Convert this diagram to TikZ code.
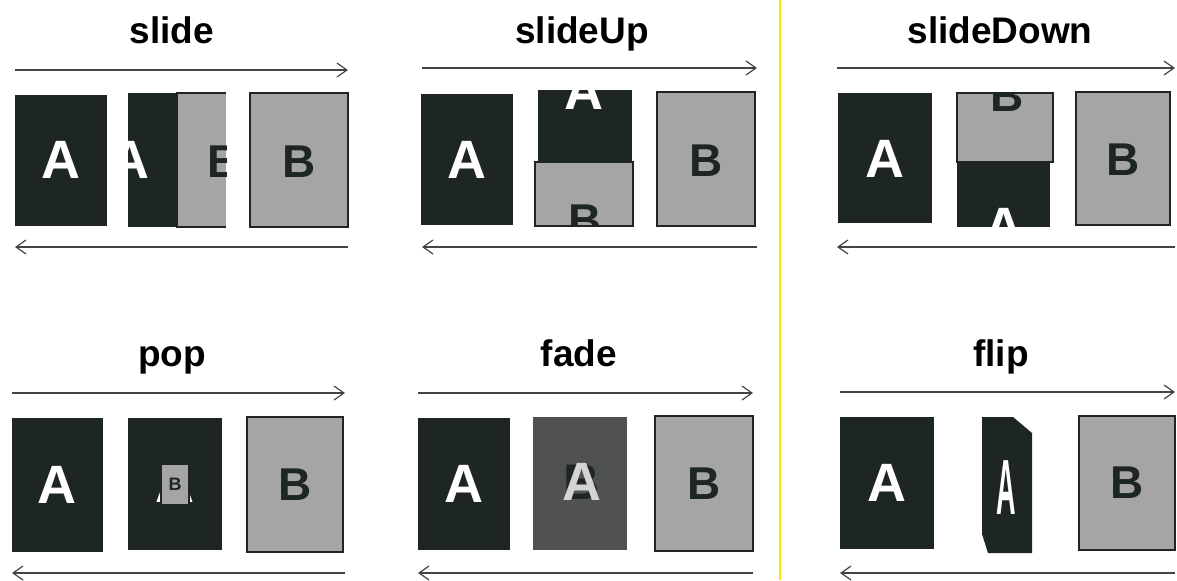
\documentclass[tikz,border=0pt]{standalone}
\usepackage{fontspec}
\setmainfont{Liberation Sans}
\usetikzlibrary{arrows.meta}
\definecolor{pgdark}{RGB}{30,38,33}
\definecolor{pggray}{RGB}{165,165,165}
\definecolor{pgfade}{RGB}{80,82,80}
\definecolor{sepline}{RGB}{250,232,0}

\begin{document}
\begin{tikzpicture}[x=0.5pt,y=-0.5pt,>={Straight Barb[length=5pt,width=7pt]},
  ttl/.style={anchor=base,inner sep=0pt,font=\bfseries\fontsize{18.5}{22}\selectfont},
  pga/.style={fill=pgdark},
  pgb/.style={fill=pggray,draw=pgdark,line width=1pt},
  leta/.style={inner sep=0pt,text=white,font=\bfseries\fontsize{27}{30}\selectfont},
  letb/.style={inner sep=0pt,text=pgdark,font=\bfseries\fontsize{23}{26}\selectfont},
  flow/.style={->,line width=0.6pt,draw=pgdark!85}]
\useasboundingbox (0,0) rectangle (1177,580);
\draw[sepline,line width=0.8pt] (780,0) -- (780,580);

% slide
\node[ttl] (tSlide) at (172,43) {slide};
\path (15,70) coordinate (slTL) (348,70) coordinate (slTR) (15,247) coordinate (slBL) (348,247) coordinate (slBR);
\draw[flow] (slTL) -- (slTR);
\draw[flow] (slBR) -- (slBL);
\fill[pga] (15,95) rectangle (107,226);
\node[leta] (slA) at (61,160) {A};
\fill[pga] (128,93) rectangle (177,227);
\begin{scope}
  \clip (128,93) rectangle (177,227);
  \node[leta] (slA2) at (130,160) {A};
\end{scope}
\fill[pggray] (177,93) rectangle (226,227);
\begin{scope}
  \clip (177,93) rectangle (226,227);
  \node[letb] (slB2) at (224,162) {B};
\end{scope}
\draw[pgdark,line width=1pt] (226,93) -- (177,93) -- (177,227) -- (226,227);
\filldraw[pgb] (250,93) rectangle (348,227);
\node[letb] (slB) at (299,162) {B};

% slideUp
\node[ttl] (tUp) at (582,43) {slideUp};
\path (422,68) coordinate (upTL) (757,68) coordinate (upTR) (422,247) coordinate (upBL) (757,247) coordinate (upBR);
\draw[flow] (upTL) -- (upTR);
\draw[flow] (upBR) -- (upBL);
\fill[pga] (421,94) rectangle (513,225);
\node[leta] (upA) at (467,160) {A};
\fill[pga] (538,90) rectangle (632,162);
\begin{scope}
  \clip (538,90) rectangle (632,162);
  \node[leta] (upA2) at (584,91) {A};
\end{scope}
\filldraw[pgb] (535,162) rectangle (633,226);
\begin{scope}
  \clip (535,162) rectangle (633,226);
  \node[letb] (upB2) at (585,221) {B};
\end{scope}
\filldraw[pgb] (657,92) rectangle (755,226);
\node[letb] (upB) at (706,161) {B};

% slideDown
\node[ttl] (tDown) at (1000,43) {slideDown};
\path (837,68) coordinate (dnTL) (1175,68) coordinate (dnTR) (837,247) coordinate (dnBL) (1175,247) coordinate (dnBR);
\draw[flow] (dnTL) -- (dnTR);
\draw[flow] (dnBR) -- (dnBL);
\fill[pga] (838,93) rectangle (932,223);
\node[leta] (dnA) at (885,159) {A};
\fill[pga] (957,162) rectangle (1050,227);
\begin{scope}
  \clip (957,162) rectangle (1050,227);
  \node[leta] (dnA2) at (1004,227) {A};
\end{scope}
\filldraw[pgb] (957,93) rectangle (1053,162);
\begin{scope}
  \clip (957,93) rectangle (1053,162);
  \node[letb] (dnB2) at (1007,96) {B};
\end{scope}
\filldraw[pgb] (1076,92) rectangle (1170,225);
\node[letb] (dnB) at (1123,160) {B};

% pop
\node[ttl] (tPop) at (172,366) {pop};
\path (12,393) coordinate (poTL) (345,393) coordinate (poTR) (12,573) coordinate (poBL) (345,573) coordinate (poBR);
\draw[flow] (poTL) -- (poTR);
\draw[flow] (poBR) -- (poBL);
\fill[pga] (12,418) rectangle (103,552);
\node[leta] (poA) at (57,485) {A};
\fill[pga] (128,418) rectangle (222,550);
\node[leta] (poA2) at (175,484) {A};
\filldraw[pgb,line width=0.6pt] (161,464) rectangle (189,505);
\node[letb,font=\bfseries\fontsize{9}{10}\selectfont] (poB2) at (175,484) {B};
\filldraw[pgb] (247,417) rectangle (343,552);
\node[letb] (poB) at (295,485) {B};

% fade
\node[ttl] (tFade) at (579,366) {fade};
\path (418,393) coordinate (faTL) (753,393) coordinate (faTR) (418,573) coordinate (faBL) (753,573) coordinate (faBR);
\draw[flow] (faTL) -- (faTR);
\draw[flow] (faBR) -- (faBL);
\fill[pga] (418,418) rectangle (510,550);
\node[leta] (faA) at (464,484) {A};
\fill[pgfade] (533,417) rectangle (627,550);
\node[letb,text=pgdark,font=\bfseries\fontsize{25}{28}\selectfont] (faB2) at (582,482) {B};
\node[leta,text=white!75!pgfade] (faA2) at (582,482) {A};
\filldraw[pgb] (655,416) rectangle (753,551);
\node[letb] (faB) at (704,484) {B};

% flip
\node[ttl] (tFlip) at (1001,366) {flip};
\path (840,392) coordinate (flTL) (1175,392) coordinate (flTR) (840,573) coordinate (flBL) (1175,573) coordinate (flBR);
\draw[flow] (flTL) -- (flTR);
\draw[flow] (flBR) -- (flBL);
\fill[pga] (840,417) rectangle (934,549);
\node[leta] (flA) at (887,483) {A};
\fill[pga] (982,417) -- (1013,417) -- (1032,433) -- (1032,553) -- (988,553) -- (982,534) -- cycle;
\node[leta] (flA2) at (1006,488) {\scalebox{0.5}[1.45]{A}};
\filldraw[pgb] (1079,416) rectangle (1175,550);
\node[letb] (flB) at (1127,483) {B};
\end{tikzpicture}
\end{document}
